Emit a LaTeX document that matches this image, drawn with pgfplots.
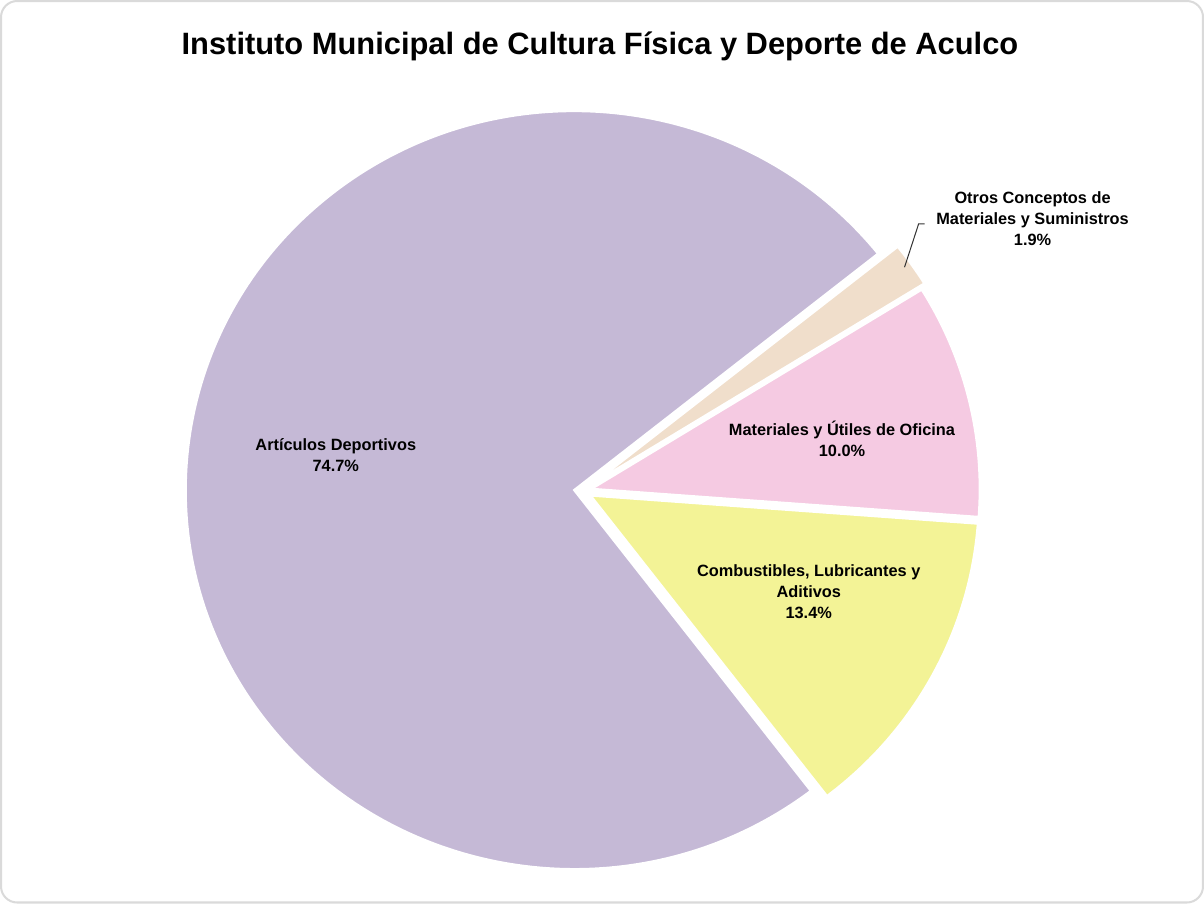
\documentclass[border=0pt]{standalone}
\usepackage{pgfplots}
\usepackage{pgfplotstable}
\pgfplotsset{compat=1.18}
\usepackage{fontspec}
\setmainfont{Liberation Sans}

\definecolor{clav}{HTML}{C5B9D6}
\definecolor{cpink}{HTML}{F5CAE2}
\definecolor{cyel}{HTML}{F3F396}
\definecolor{cbeige}{HTML}{F0DECB}
\definecolor{cframe}{HTML}{DADADA}

% share in percent, explode offset in px
\pgfplotstableread{
slice value explode
0 13.4 9
1 10.0 9
2 1.9 14
3 74.7 8
}\piedata

\def\startang{-52.5}
\def\cx{583.5}
\def\cy{412}
\def\rx{192.75pt}
\def\ry{188pt}

% angles from the shares
\pgfmathsetmacro\cum{\startang}
\pgfplotsforeachungrouped \i in {0,...,3}{%
  \pgfplotstablegetelem{\i}{value}\of\piedata
  \pgfmathsetmacro\va{\pgfplotsretval}
  \pgfplotstablegetelem{\i}{explode}\of\piedata
  \pgfmathsetmacro\ex{\pgfplotsretval}
  \pgfmathsetmacro\sa{\cum}
  \pgfmathsetmacro\ea{\cum+3.6*\va}
  \pgfmathsetmacro\mid{(\sa+\ea)/2}
  \expandafter\xdef\csname sa\i\endcsname{\sa}
  \expandafter\xdef\csname ea\i\endcsname{\ea}
  \pgfmathsetmacro\ox{\cx+\ex*cos(\mid)}
  \pgfmathsetmacro\oy{\cy+\ex*sin(\mid)}
  \expandafter\xdef\csname ox\i\endcsname{\ox}
  \expandafter\xdef\csname oy\i\endcsname{\oy}
  \xdef\cum{\ea}
}

\newcommand\slice[2]{%
  \fill[#2, draw=white, line width=1.2pt]
    (axis cs:\csname ox#1\endcsname,\csname oy#1\endcsname)
    -- ++(\csname sa#1\endcsname:{\rx} and {\ry})
    arc[start angle=\csname sa#1\endcsname, end angle=\csname ea#1\endcsname,
        x radius=\rx, y radius=\ry] -- cycle;}

\begin{document}
\begin{tikzpicture}
\begin{axis}[
  x=0.5pt, y=0.5pt,
  xmin=0, xmax=1204, ymin=0, ymax=904,
  hide axis, clip=false, scale only axis,
]
\draw[cframe, line width=1pt, rounded corners=8pt, fill=white]
  (axis cs:7,4) rectangle (axis cs:1199,898);

\node[font=\fontsize{15.3}{18}\selectfont\bfseries] at (axis cs:601,853)
  {Instituto Municipal de Cultura Física y Deporte de Aculco};

\slice{3}{clav}
\slice{0}{cyel}
\slice{1}{cpink}
\slice{2}{cbeige}

\draw[black!80, line width=0.5pt] (axis cs:903,634) -- (axis cs:917,677) -- (axis cs:923,677);

\begin{scope}[every node/.style={font=\fontsize{8.1}{10.5}\selectfont\bfseries, align=center}]
\node at (axis cs:339,448) {Artículos Deportivos\\74.7\%};
\node at (axis cs:841,464) {Materiales y Útiles de Oficina\\10.0\%};
\node at (axis cs:808,312) {Combustibles, Lubricantes y\\Aditivos\\13.4\%};
\node at (axis cs:1030,682) {Otros Conceptos de\\Materiales y Suministros\\1.9\%};
\end{scope}
\end{axis}
\end{tikzpicture}
\end{document}
